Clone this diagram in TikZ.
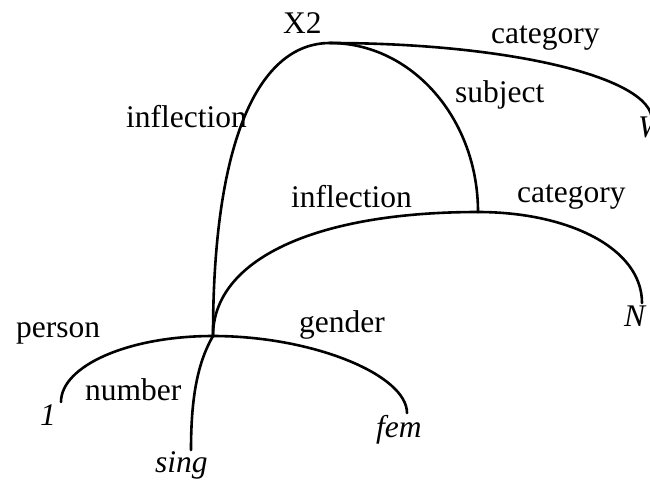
\documentclass[tikz,border=0pt]{standalone}
\usepackage{fontspec}
\setmainfont{Liberation Serif}
\begin{document}
\begin{tikzpicture}[x=1pt,y=-1pt,
  arc/.style={line width=2.6pt, line cap=round},
  lbl/.style={anchor=base west, inner sep=0pt, font=\fontsize{31.5}{37}\selectfont},
  val/.style={anchor=base west, inner sep=0pt, font=\fontsize{31.5}{37}\selectfont\itshape}]
\useasboundingbox (0,0) rectangle (650,480);
% junctions and ends
\coordinate (X2) at (330,43);
\coordinate (S) at (478,212);
\coordinate (P) at (213,336);
\coordinate (eW) at (652,120);
\coordinate (eN) at (642,303);
\coordinate (e1) at (61,402);
\coordinate (esing) at (191,450);
\coordinate (efem) at (407,413);
% connectors
\draw[arc] (X2) .. controls +(-70,0) and +(0,-199) .. (P);
\draw[arc] (X2) .. controls +(82,0) and +(0,-93) .. (S);
\draw[arc] (X2) .. controls +(177,0) and +(0,-43) .. (eW);
\draw[arc] (S) .. controls +(-164,0) and +(0,-76) .. (P);
\draw[arc] (S) .. controls +(90,0) and +(0,-55) .. (eN);
\draw[arc] (P) .. controls +(-85,0) and +(0,-36) .. (e1);
\draw[arc] (P) .. controls +(100,0) and +(0,-38) .. (efem);
\draw[arc] (P) .. controls +(-15,26) and +(0,-54) .. (esing);
% labels
\node[lbl] (tX2) at (283,33) {X2};
\node[lbl] (tcat1) at (491,43) {category};
\node[lbl] (tsubj) at (455,102) {subject};
\node[lbl] (tinf1) at (126,127) {inflection};
\node[lbl] (tinf2) at (291,207) {inflection};
\node[lbl] (tcat2) at (517,202) {category};
\node[lbl] (tgen) at (299,332) {gender};
\node[lbl] (tper) at (16,337) {person};
\node[lbl] (tnum) at (85,400) {number};
\node[val] (v1) at (40,425) {1};
\node[val] (vsing) at (155,472) {sing};
\node[val] (vfem) at (376,437) {fem};
\node[val] (vN) at (624,326) {N};
\node[val] (vW) at (638,137) {W};
\end{tikzpicture}
\end{document}
